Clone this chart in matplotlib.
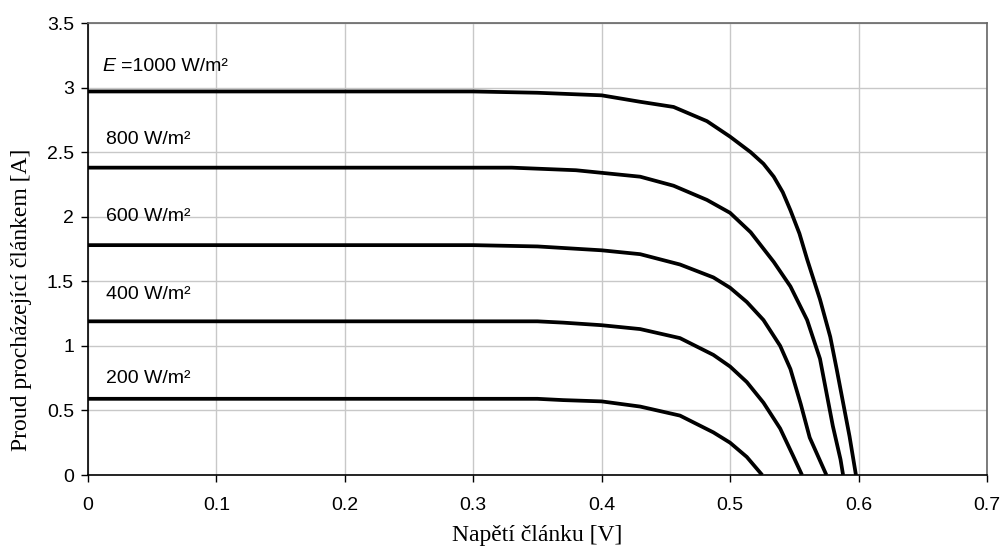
import numpy as np
import matplotlib
matplotlib.use("Agg")
import matplotlib.pyplot as plt

# I-V curves of a solar cell for various irradiance levels
v_1000 = [0.0, 0.30, 0.35, 0.40, 0.43, 0.456, 0.482, 0.50, 0.516, 0.526, 0.534, 0.541,
          0.547, 0.554, 0.560, 0.570, 0.578, 0.583, 0.588, 0.593, 0.598]
i_1000 = [2.97, 2.97, 2.96, 2.94, 2.89, 2.85, 2.74, 2.62, 2.50, 2.41, 2.31, 2.19,
          2.05, 1.87, 1.67, 1.36, 1.07, 0.82, 0.56, 0.30, 0.0]

v_800 = [0.0, 0.33, 0.38, 0.40, 0.43, 0.456, 0.482, 0.50, 0.516, 0.534, 0.547, 0.560,
         0.570, 0.575, 0.580, 0.586, 0.588]
i_800 = [2.38, 2.38, 2.36, 2.34, 2.31, 2.24, 2.13, 2.03, 1.88, 1.65, 1.46, 1.20,
         0.90, 0.64, 0.38, 0.12, 0.0]

v_600 = [0.0, 0.30, 0.35, 0.40, 0.43, 0.461, 0.487, 0.50, 0.513, 0.526, 0.539, 0.547,
         0.555, 0.562, 0.575]
i_600 = [1.78, 1.78, 1.77, 1.74, 1.71, 1.63, 1.53, 1.45, 1.34, 1.20, 1.00, 0.82,
         0.55, 0.29, 0.0]

v_400 = [0.0, 0.35, 0.37, 0.40, 0.43, 0.461, 0.487, 0.50, 0.513, 0.526, 0.539, 0.549, 0.556]
i_400 = [1.19, 1.19, 1.18, 1.16, 1.13, 1.06, 0.93, 0.84, 0.72, 0.56, 0.36, 0.15, 0.0]

v_200 = [0.0, 0.35, 0.37, 0.40, 0.43, 0.461, 0.487, 0.50, 0.513, 0.525]
i_200 = [0.59, 0.59, 0.58, 0.57, 0.53, 0.46, 0.33, 0.25, 0.14, 0.0]

curves = [(v_1000, i_1000), (v_800, i_800), (v_600, i_600), (v_400, i_400), (v_200, i_200)]
labels = ["1000 W/m²", "800 W/m²", "600 W/m²", "400 W/m²", "200 W/m²"]
label_y = [3.13, 2.565, 1.97, 1.365, 0.715]

fig = plt.figure(figsize=(10.04, 5.48), dpi=100)
ax = fig.add_axes([0.0876, 0.1332, 0.8954, 0.8248])

for v, i in curves:
    ax.plot(v, i, color="black", lw=2.7, solid_joinstyle="round", solid_capstyle="butt")

sans = "Liberation Sans"
serif = "Liberation Serif"
for k, (txt, y) in enumerate(zip(labels, label_y)):
    if k == 0:
        ax.text(0.011, y, "E", style="italic", fontsize=14, family=sans, va="baseline")
        ax.text(0.026, y, "=" + txt, fontsize=14, family=sans, va="baseline")
    else:
        ax.text(0.014, y, txt, fontsize=14, family=sans, va="baseline")

ax.set_xlim(0, 0.7)
ax.set_ylim(0, 3.5)
ax.set_xticks(np.arange(0, 0.71, 0.1))
ax.set_yticks(np.arange(0, 3.51, 0.5))
ax.set_xticklabels(["0", "0.1", "0.2", "0.3", "0.4", "0.5", "0.6", "0.7"])
ax.set_yticklabels(["0", "0.5", "1", "1.5", "2", "2.5", "3", "3.5"])
for lab in ax.get_xticklabels() + ax.get_yticklabels():
    lab.set_family(sans)
    lab.set_fontsize(14)
ax.tick_params(direction="out", length=5, width=1, color="black")
ax.tick_params(axis="x", pad=11)
ax.tick_params(axis="y", pad=5)
ax.grid(True, color="#c8c8c8", lw=1)
ax.set_axisbelow(True)

for side in ["top", "right"]:
    ax.spines[side].set_color("#666666")
    ax.spines[side].set_linewidth(1.2)
for side in ["left", "bottom"]:
    ax.spines[side].set_color("black")
    ax.spines[side].set_linewidth(1.2)

ax.set_xlabel("Napětí článku [V]", family=serif, fontsize=17, va="center")
ax.set_ylabel("Proud procházející článkem [A]", family=serif, fontsize=17, va="center")
ax.xaxis.set_label_coords(0.5, -0.133)
ax.yaxis.set_label_coords(-0.0735, 0.387)

fig.savefig("out.png", dpi=100)
